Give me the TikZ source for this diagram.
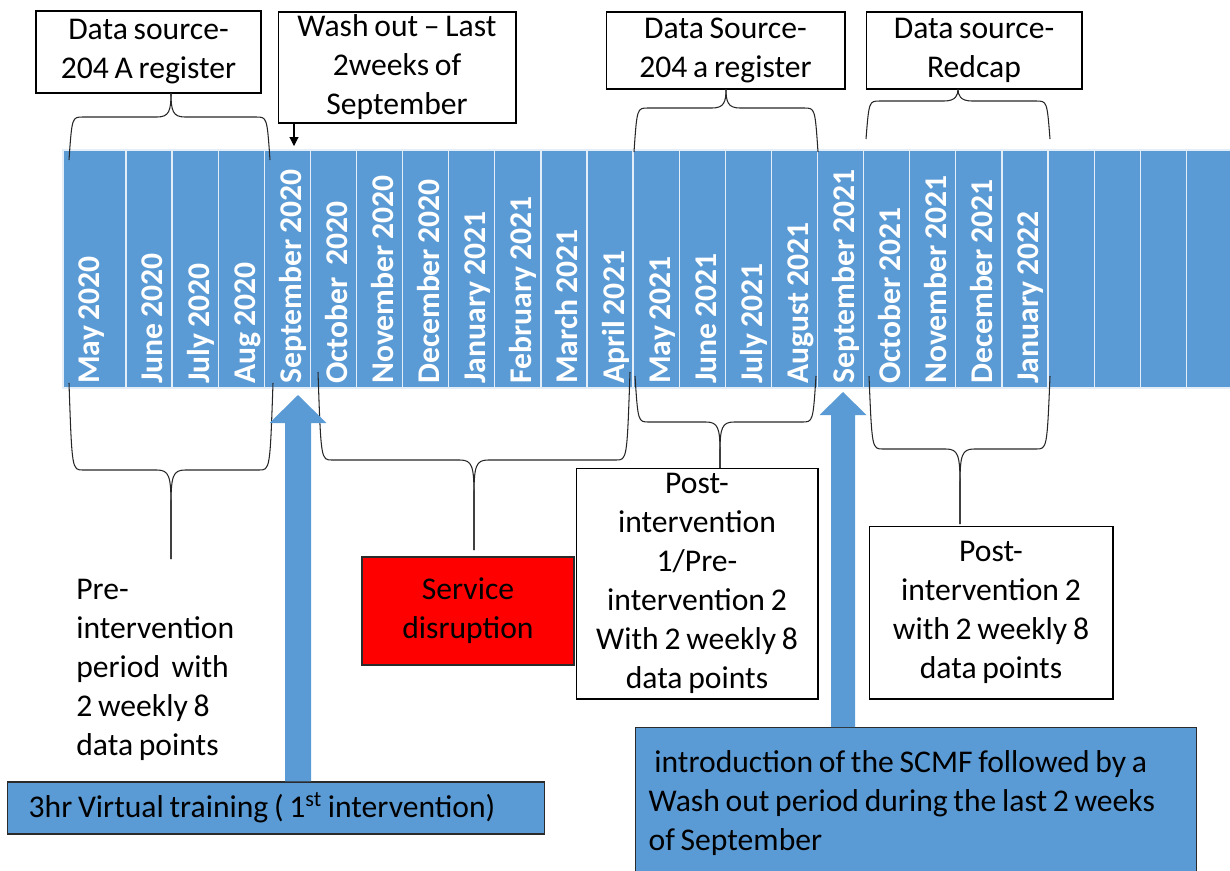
\documentclass[tikz,border=0pt]{standalone}
\usepackage{fontspec}
\setmainfont{Carlito}[WordSpace=0.8]
\usetikzlibrary{calc,arrows.meta}
\definecolor{stripblue}{HTML}{5B9BD5}
\definecolor{sepwhite}{HTML}{E4EEF8}
\definecolor{boxline}{HTML}{2B2B2B}

% curly bracket: x1, x2, y of ends, y of bar, x of tip, y of tip, direction, tip length
\newcommand{\spanbrace}[8]{%
  \draw[bracestroke] (#1,#3) .. controls ({#1+3},#4) and ({#1+3},#4) .. ({#1+14},#4)
    -- ({#5-14},#4) .. controls ({#5-2},#4) and (#5,{#4+(#7)*6}) .. (#5,{#4+(#7)*#8}) -- (#5,#6);
  \draw[bracestroke] (#2,#3) .. controls ({#2-3},#4) and ({#2-3},#4) .. ({#2-14},#4)
    -- ({#5+14},#4) .. controls ({#5+2},#4) and (#5,{#4+(#7)*6}) .. (#5,{#4+(#7)*#8}) -- (#5,#6);
}
% block arrow from a box up to a tip: tip, box, head length, head half width, shaft half width
\newcommand{\blockarrow}[5]{%
  \fill[stripblue] ($(#2.north -| #1)+(-#5,0)$) -- ($(#1)+(-#5,#3)$) -- ($(#1)+(-#4,#3)$) -- (#1)
    -- ($(#1)+(#4,#3)$) -- ($(#1)+(#5,#3)$) -- ($(#2.north -| #1)+(#5,0)$) -- cycle;
}

\begin{document}
\begin{tikzpicture}[
        x=0.02cm, y=-0.02cm,
        every node/.style={font=\fontsize{18}{22.2}\selectfont},
        month/.style={rotate=90, anchor=west, inner sep=0, text=white, text height=0.72em, text depth=0.22em, font=\fontsize{18}{22}\selectfont\bfseries},
        colsep/.style={draw=sepwhite, line width=0.7pt},
        bracestroke/.style={draw=black!85, line width=0.6pt},
        infobox/.style={draw=black, line width=0.6pt, fill=white, align=center, inner sep=0},
        bluebox/.style={draw=boxline, line width=0.8pt, fill=stripblue, inner sep=0},
        redbox/.style={draw=boxline, line width=0.8pt, fill=red, align=center, inner sep=0}
    ]
    \useasboundingbox (0,0) rectangle (1230,870);

    % Timeline
    \fill[stripblue] (63,150) rectangle (1240,388);
    \draw[colsep] (1240,150) -- (63,150) -- (63,388) -- (1240,388);
    \foreach \k in {0,...,23}
        \draw[colsep] ({126+46.1*\k},150) -- ({126+46.1*\k},388);
    \foreach \m [count=\i] in {May 2020,June 2020,July 2020,Aug 2020,September 2020,%
        October\ \ 2020,November 2020,December 2020,January 2021,February 2021,%
        March 2021,April 2021,May 2021,June 2021,July 2021,August 2021,%
        September 2021,October 2021,November 2021,December 2021,January 2022} {
        \pgfmathsetmacro\xm{\i==1 ? 95 : 112.5+46.1*(\i-1)}
        \node[month] (m\i) at (\xm,384) {\m};
    }

    % Boxes above
    \node[infobox, minimum width=4.5cm, minimum height=1.64cm] (srcA) at (148.5,52) {Data source-\\204 A register};
    \node[infobox, minimum width=4.76cm, minimum height=2.22cm] (wash) at (397,67.5) {Wash out -- Last\\2weeks of\\September};
    \node[infobox, minimum width=4.78cm, minimum height=1.54cm] (srcB) at (725.5,50.5) {Data Source-\\204 a register};
    \node[infobox, minimum width=4.32cm, minimum height=1.54cm] (redcap) at (974,50.5) {Data source-\\Redcap};

    \coordinate (wtip) at (294,146);
    \draw[-{Triangle[length=5pt,width=5pt]}, line width=0.6pt] (wash.south -| wtip) -- (wtip);

    % Braces above
    \spanbrace{69}{270}{160}{117}{171}{93}{-1}{24}
    \spanbrace{634}{818}{152}{108}{726}{89}{-1}{19}
    \spanbrace{866}{1050}{139}{101}{958}{89}{-1}{12}

    % Braces below
    \spanbrace{69}{273}{383}{470}{171}{559}{1}{35}
    \spanbrace{318}{630}{372}{460}{474}{550}{1}{35}
    \spanbrace{635}{816}{376}{422}{720}{468}{1}{30}
    \spanbrace{869}{1050}{376}{449}{960}{524}{1}{35}

    % Periods
    \node[anchor=west, align=flush left, inner sep=0] (pre) at (76,670) {Pre-\\intervention\\period\ \ with\\2 weekly 8\\data points};
    \node[redbox, minimum width=4.24cm, minimum height=2.16cm] (disrupt) at (468,611) {Service\\disruption};
    \node[infobox, minimum width=4.84cm, minimum height=4.62cm] (post1) at (697,583.5) {Post-\\intervention\\1/Pre-\\intervention 2\\With 2 weekly 8\\data points};
    \node[infobox, minimum width=4.88cm, minimum height=3.46cm] (post2) at (991,612.5) {Post-\\intervention 2\\with 2 weekly 8\\data points};

    % Interventions
    \node[bluebox, anchor=west, minimum height=1.04cm, text width=9.9cm, inner xsep=0.42cm, align=flush left] (train) at (7,808) {3hr Virtual training ( 1\textsuperscript{st} intervention)};
    \node[bluebox, anchor=north west, minimum height=3cm, text width=10.7cm, inner xsep=0.26cm, align=flush left] (scmf) at (635,727) {\ introduction of the SCMF followed by a\\Wash out period during the last 2 weeks\\of September};

    \coordinate (t1) at (298,395);
    \coordinate (t2) at (843,392);
    \blockarrow{t1}{train}{28}{28.5}{13}
    \blockarrow{t2}{scmf}{23}{23.5}{12}

\end{tikzpicture}
\end{document}
